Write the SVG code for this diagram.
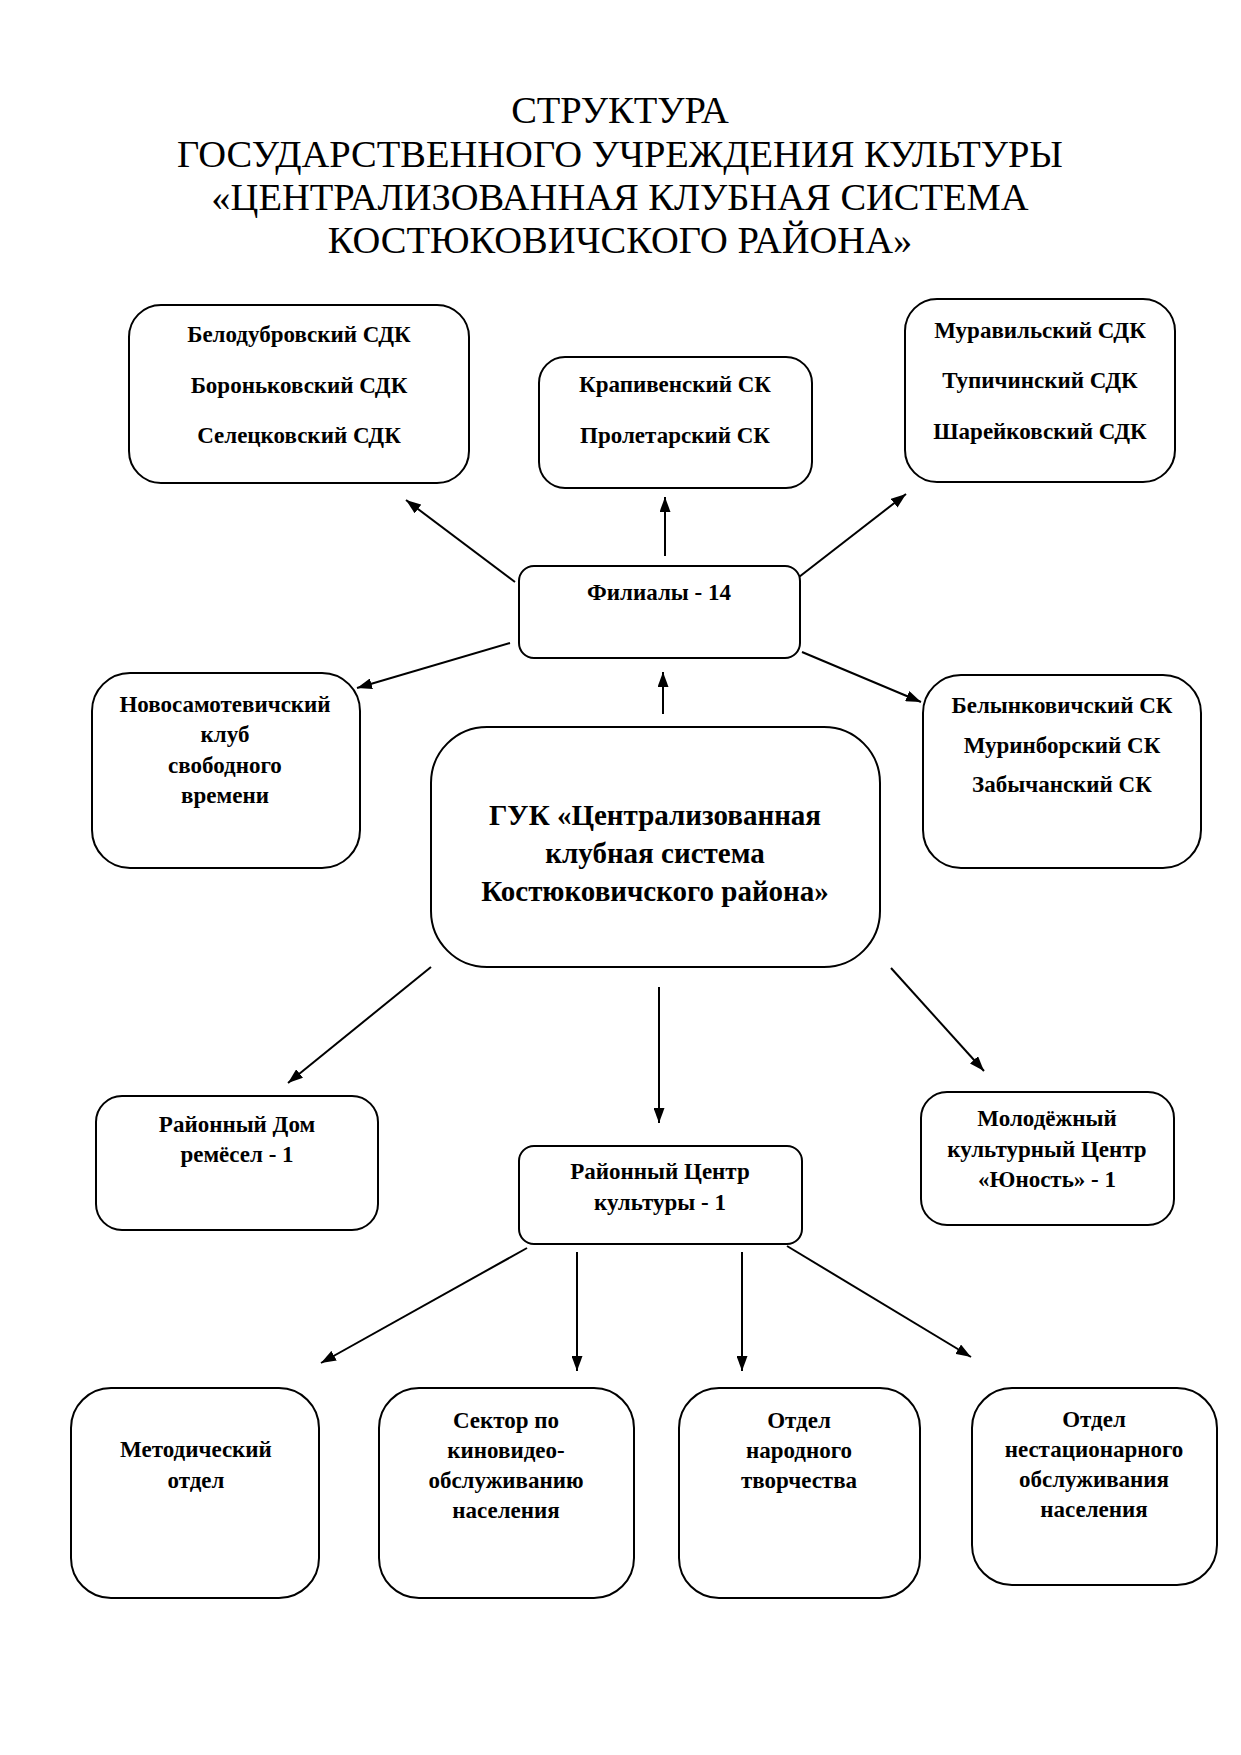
<svg xmlns="http://www.w3.org/2000/svg" width="1241" height="1755" viewBox="0 0 1241 1755">
<style>
.box{fill:#fff;stroke:#000;stroke-width:2}
.t{font-family:"Liberation Serif","Times New Roman",serif;font-weight:bold;font-size:23px;text-anchor:middle;fill:#000}
.big{font-size:29px}
.title{font-family:"Liberation Serif","Times New Roman",serif;font-size:38.5px;text-anchor:middle;fill:#000}
.c line{stroke:#000;stroke-width:2;marker-end:url(#ah)}
</style>
<defs>
<marker id="ah" markerUnits="userSpaceOnUse" markerWidth="15" markerHeight="11" refX="15" refY="5.5" viewBox="0 0 15 11" orient="auto">
<path d="M0,0 L15,5.5 L0,11 z" fill="#000"/>
</marker>
</defs>
<rect width="1241" height="1755" fill="#fff"/>
<g id="title">
<text class="title" x="620" y="123">СТРУКТУРА</text>
<text class="title" x="620" y="167">ГОСУДАРСТВЕННОГО УЧРЕЖДЕНИЯ КУЛЬТУРЫ</text>
<text class="title" x="620" y="210">«ЦЕНТРАЛИЗОВАННАЯ КЛУБНАЯ СИСТЕМА</text>
<text class="title" x="620" y="253">КОСТЮКОВИЧСКОГО РАЙОНА»</text>
</g>
<g id="connectors" class="c">
<line x1="515" y1="582" x2="406" y2="500"/>
<line x1="665" y1="556" x2="665" y2="497"/>
<line x1="799" y1="577" x2="906" y2="494"/>
<line x1="510" y1="643" x2="357" y2="688"/>
<line x1="802" y1="652" x2="921" y2="702"/>
<line x1="663" y1="714" x2="663" y2="672"/>
<line x1="431" y1="967" x2="288" y2="1083"/>
<line x1="659" y1="987" x2="659" y2="1123"/>
<line x1="891" y1="968" x2="984" y2="1071"/>
<line x1="527" y1="1248" x2="321" y2="1363"/>
<line x1="577" y1="1252" x2="577" y2="1371"/>
<line x1="742" y1="1252" x2="742" y2="1371"/>
<line x1="787" y1="1246" x2="971" y2="1357"/>
</g>
<g id="belodubrovsky">
<rect class="box" x="129" y="305" width="340" height="178" rx="32"/>
<text class="t" x="299" y="342">Белодубровский СДК</text>
<text class="t" x="299" y="393">Бороньковский СДК</text>
<text class="t" x="299" y="443">Селецковский СДК</text>
</g>
<g id="krapivensky">
<rect class="box" x="539" y="357" width="273" height="131" rx="26"/>
<text class="t" x="675" y="392">Крапивенский СК</text>
<text class="t" x="675" y="443">Пролетарский СК</text>
</g>
<g id="muravilsky">
<rect class="box" x="905" y="299" width="270" height="183" rx="32"/>
<text class="t" x="1040" y="338">Муравильский СДК</text>
<text class="t" x="1040" y="388">Тупичинский СДК</text>
<text class="t" x="1040" y="439">Шарейковский СДК</text>
</g>
<g id="filialy">
<rect class="box" x="519" y="566" width="281" height="92" rx="15"/>
<text class="t" x="659" y="600">Филиалы - 14</text>
</g>
<g id="novosamotevichsky">
<rect class="box" x="92" y="673" width="268" height="195" rx="38"/>
<text class="t" x="225" y="712">Новосамотевичский</text>
<text class="t" x="225" y="742">клуб</text>
<text class="t" x="225" y="773">свободного</text>
<text class="t" x="225" y="803">времени</text>
</g>
<g id="guk">
<rect class="box" x="431" y="727" width="449" height="240" rx="56"/>
<text class="t big" x="655" y="825">ГУК «Централизованная</text>
<text class="t big" x="655" y="863">клубная система</text>
<text class="t big" x="655" y="901">Костюковичского района»</text>
</g>
<g id="belynkovichsky">
<rect class="box" x="923" y="675" width="278" height="193" rx="38"/>
<text class="t" x="1062" y="713">Белынковичский СК</text>
<text class="t" x="1062" y="753">Муринборский СК</text>
<text class="t" x="1062" y="792">Забычанский СК</text>
</g>
<g id="dom-remesel">
<rect class="box" x="96" y="1096" width="282" height="134" rx="26"/>
<text class="t" x="237" y="1132">Районный Дом</text>
<text class="t" x="237" y="1162">ремёсел - 1</text>
</g>
<g id="rck">
<rect class="box" x="519" y="1146" width="283" height="98" rx="15"/>
<text class="t" x="660" y="1179">Районный Центр</text>
<text class="t" x="660" y="1210">культуры - 1</text>
</g>
<g id="molodezhny">
<rect class="box" x="921" y="1092" width="253" height="133" rx="26"/>
<text class="t" x="1047" y="1126">Молодёжный</text>
<text class="t" x="1047" y="1157">культурный Центр</text>
<text class="t" x="1047" y="1187">«Юность» - 1</text>
</g>
<g id="metodichesky">
<rect class="box" x="71" y="1388" width="248" height="210" rx="40"/>
<text class="t" x="196" y="1457">Методический</text>
<text class="t" x="196" y="1488">отдел</text>
</g>
<g id="sektor">
<rect class="box" x="379" y="1388" width="255" height="210" rx="40"/>
<text class="t" x="506" y="1428">Сектор по</text>
<text class="t" x="506" y="1458">киновидео-</text>
<text class="t" x="506" y="1488">обслуживанию</text>
<text class="t" x="506" y="1518">населения</text>
</g>
<g id="narodnogo">
<rect class="box" x="679" y="1388" width="241" height="210" rx="40"/>
<text class="t" x="799" y="1428">Отдел</text>
<text class="t" x="799" y="1458">народного</text>
<text class="t" x="799" y="1488">творчества</text>
</g>
<g id="nestatsionarnogo">
<rect class="box" x="972" y="1388" width="245" height="197" rx="40"/>
<text class="t" x="1094" y="1427">Отдел</text>
<text class="t" x="1094" y="1457">нестационарного</text>
<text class="t" x="1094" y="1487">обслуживания</text>
<text class="t" x="1094" y="1517">населения</text>
</g>
</svg>
